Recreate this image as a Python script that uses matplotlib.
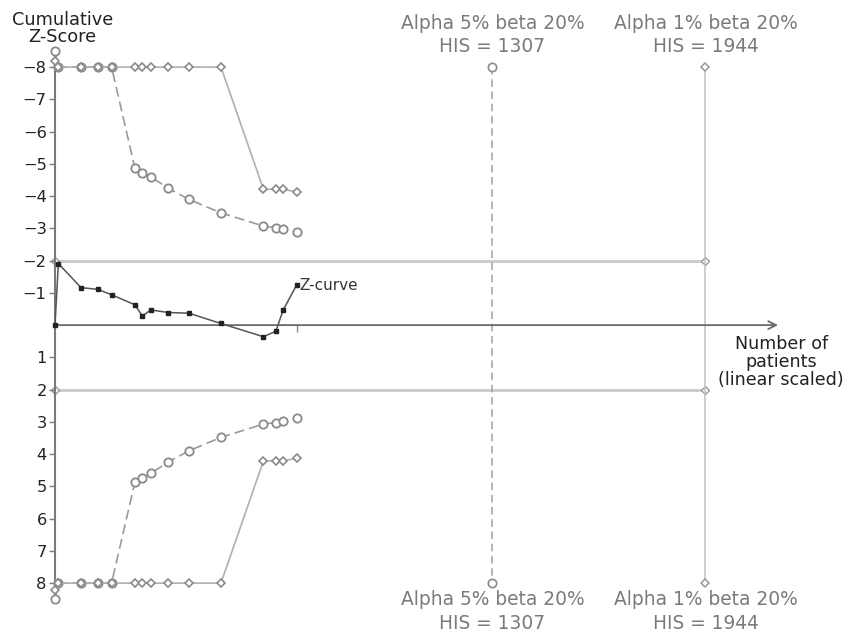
import matplotlib.pyplot as plt
import matplotlib.transforms as mtransforms

# Trial sequential analysis data
patients = [0, 10, 78, 128, 169, 239, 261, 286, 339, 400, 496, 623, 660, 682, 722]
z_curve = [0, -1.91, -1.16, -1.11, -0.94, -0.63, -0.28, -0.47, -0.39, -0.37, -0.05, 0.36, 0.19, -0.47, -1.24]
bound_5 = [8.5, 8, 8, 8, 8, 4.86, 4.73, 4.60, 4.24, 3.90, 3.48, 3.07, 3.02, 2.98, 2.89]
bound_1 = [8.2, 8, 8, 8, 8, 8, 8, 8, 8, 8, 8, 4.21, 4.21, 4.21, 4.13]
his_5 = 1307
his_1 = 1944
conv_z = 2
z_ticks = [-8, -7, -6, -5, -4, -3, -2, -1, 1, 2, 3, 4, 5, 6, 7, 8]
x_end = 2161

plt.rcParams['font.family'] = ['DejaVu Sans']

fig = plt.figure(figsize=(8.5, 6.37), dpi=100)
ax = fig.add_axes([0, 0, 1, 1])
ax.set_xlim(-164.4, 2376)
ax.set_ylim(9.67, -10.08)

bound_col = '#9a9a9a'
text_gray = '#7a7a7a'

# conventional boundaries at +/-2
for s in (-1, 1):
    ax.plot([0, his_1], [s * conv_z, s * conv_z], color='#c9c9c9', lw=2,
            marker='D', ms=4, mfc='white', mec='#9a9a9a', zorder=1)

# monitoring boundaries
upper_5 = [-v for v in bound_5]
upper_1 = [-v for v in bound_1]
ax.plot(patients, upper_5, color=bound_col, lw=1.2, ls=(0, (6, 3)),
        marker='o', ms=6, mfc='white', mec='#8a8a8a', mew=1.3, zorder=3)
ax.plot(patients, bound_5, color=bound_col, lw=1.2, ls=(0, (6, 3)),
        marker='o', ms=6, mfc='white', mec='#8a8a8a', mew=1.3, zorder=3)
ax.plot(patients, upper_1, color='#b0b0b0', lw=1.2,
        marker='D', ms=4.5, mfc='white', mec='#8a8a8a', mew=1.2, zorder=3)
ax.plot(patients, bound_1, color='#b0b0b0', lw=1.2,
        marker='D', ms=4.5, mfc='white', mec='#8a8a8a', mew=1.2, zorder=3)

# required information size lines
ax.plot([his_5, his_5], [-8, 8], color='#a0a0a0', lw=1.1, ls=(0, (5, 3)),
        marker='o', ms=6, mfc='white', mec='#8a8a8a', mew=1.2, zorder=2)
ax.plot([his_1, his_1], [-8, 8], color='#c0c0c0', lw=1.1,
        marker='D', ms=4.5, mfc='white', mec='#9a9a9a', mew=1.1, zorder=2)

# x axis with arrow
ax.annotate('', xy=(x_end, 0), xytext=(0, 0),
            arrowprops=dict(arrowstyle='->', color='#6a6a6a', lw=1.3,
                            mutation_scale=14, shrinkA=0, shrinkB=0), zorder=2)

# Z-curve
ax.plot(patients, z_curve, color='#555555', lw=1.1, marker='s', ms=3,
        mfc='#222222', mec='#222222', zorder=5)
ax.annotate('Z-curve', xy=(patients[-1], z_curve[-1]), xytext=(3, 0),
            textcoords='offset pixels', ha='left', va='center',
            fontsize=11, color='#333333')

# axes styling
for side in ('top', 'right', 'bottom'):
    ax.spines[side].set_visible(False)
ax.spines['left'].set_position(('data', 0))
ax.spines['left'].set_bounds(-8.5, 8.5)
ax.spines['left'].set_color('#7a7a7a')
ax.spines['left'].set_linewidth(1.5)
ax.spines['bottom'].set_position(('data', 0))

ax.set_yticks(z_ticks)
ax.set_yticklabels([str(t).replace('-', '\u2212') for t in z_ticks])
ax.tick_params(axis='y', direction='out', length=4, width=1, pad=2,
               color='#7a7a7a', labelsize=11.7, labelcolor='#222222')
ax.set_xticks([patients[-1]])
ax.set_xticklabels([''])
ax.tick_params(axis='x', direction='out', length=5, width=1, color='#8a8a8a')

# labels
trans = mtransforms.blended_transform_factory(ax.transData, ax.transAxes)
ax.text(22, 0.983, 'Cumulative\nZ-Score', transform=trans, ha='center', va='top',
        fontsize=12.8, color='#222222', linespacing=0.95)

for his, pct in ((his_5, 5), (his_1, 1)):
    label = 'Alpha %d%% beta 20%%\nHIS = %d' % (pct, his)
    ax.annotate(label, xy=(his, -8), xytext=(0, 11), textcoords='offset pixels',
                ha='center', va='bottom', fontsize=13.4, color=text_gray,
                linespacing=1.3)
    ax.annotate(label, xy=(his, 8), xytext=(0, -7), textcoords='offset pixels',
                ha='center', va='top', fontsize=13.4, color=text_gray,
                linespacing=1.3)

ax.annotate('Number of\npatients\n(linear scaled)', xy=(x_end, 0), xytext=(3, -10),
            textcoords='offset pixels', ha='center', va='top',
            fontsize=12.6, color='#222222', linespacing=1.0)

fig.savefig('out.png', dpi=100)
